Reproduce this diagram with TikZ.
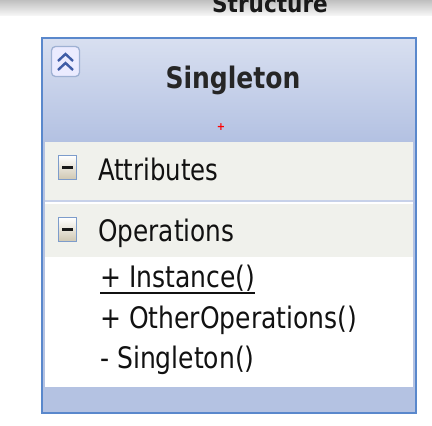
\documentclass[tikz,border=0pt]{standalone}
\usepackage{fontspec}
\setmainfont{DejaVu Sans Condensed}[BoldFont={DejaVu Sans Condensed Bold}]
\usepackage{graphicx}
\definecolor{borderblue}{HTML}{5A88CC}
\definecolor{hdtop}{HTML}{D8DFF0}
\definecolor{hdbot}{HTML}{B3C1E2}
\definecolor{bandblue}{HTML}{B4C2E2}
\definecolor{secgray}{HTML}{F0F1EC}
\definecolor{chev}{HTML}{3F5CA6}
\definecolor{iconborder}{HTML}{9FB1D3}
\definecolor{minusborder}{HTML}{7D9CCB}
\definecolor{minusbot}{HTML}{CFC7B2}
\definecolor{txt}{HTML}{111111}
\tikzset{
  lbl/.style={anchor=base west, inner sep=0pt, text=txt, font=\fontsize{29.6}{34}\selectfont},
  ttl/.style={anchor=base, inner sep=0pt, text=black!85, font=\fontsize{29.6}{34}\selectfont\bfseries},
  minusicon/.style={draw=minusborder, line width=1.2pt, top color=white, bottom color=minusbot},
}
\newcommand{\sqz}[2]{\scalebox{#1}[1]{#2}}
\begin{document}
\begin{tikzpicture}[x=1pt,y=-1pt]
\useasboundingbox (0,0) rectangle (432,426);
\clip (0,0) rectangle (432,426);
% top band
\shade[top color=black!25, bottom color=black!4] (0,0) rectangle (432,15);
\node[anchor=base, inner sep=0pt, font=\fontsize{24}{28}\selectfont\bfseries, text=black!90] (struct) at (270,12.7) {Structure};
% class box
\fill[bandblue] (41,37) rectangle (417,414);
\shade[top color=hdtop, bottom color=hdbot] (43,39) rectangle (415,142);
\fill[secgray] (45,142) rectangle (413,200);
\fill[bandblue!75!white] (45,200) rectangle (413,202);
\fill[white] (45,202) rectangle (413,204);
\fill[secgray] (45,204) rectangle (413,257);
\fill[white] (45,257) rectangle (413,387);
\draw[borderblue, line width=2pt] (42,38) rectangle (416,413);
% collapse icon
\draw[iconborder, fill=white!92!blue, line width=1.3pt, rounded corners=4pt] (51.5,46.5) rectangle (79.5,76.5);
\draw[chev, line width=2.4pt] (58,61) -- (65.5,54) -- (73,61);
\draw[chev, line width=2.4pt] (58,70) -- (65.5,63) -- (73,70);
% title
\node[ttl] (title) at (233,88) {\sqz{0.94}{Singleton}};
\node[text=red, inner sep=0pt, font=\fontsize{11}{12}\selectfont\bfseries] (anchor) at (221,127) {+};
% attributes
\draw[minusicon] (58.5,155.5) rectangle (76.5,179.5);
\fill[black!90] (62,165.5) rectangle (73,169);
\node[lbl] (attr) at (98,180) {\sqz{0.915}{Attributes}};
% operations
\draw[minusicon] (58.5,217.5) rectangle (76.5,241.5);
\fill[black!90] (62,227.5) rectangle (73,231);
\node[lbl] (ops) at (98,241.7) {\sqz{0.93}{Operations}};
% members
\node[lbl] (inst) at (100,287.7) {\sqz{0.94}{+ Instance()}};
\draw[txt, line width=1.3pt] ([yshift=-5.3pt]inst.base west) -- ([yshift=-5.3pt]inst.base east);
\node[lbl] (other) at (100,328.3) {\sqz{0.94}{+ OtherOperations()}};
\node[lbl] (ctor) at (100,368.3) {\sqz{0.94}{- Singleton()}};
\end{tikzpicture}
\end{document}
